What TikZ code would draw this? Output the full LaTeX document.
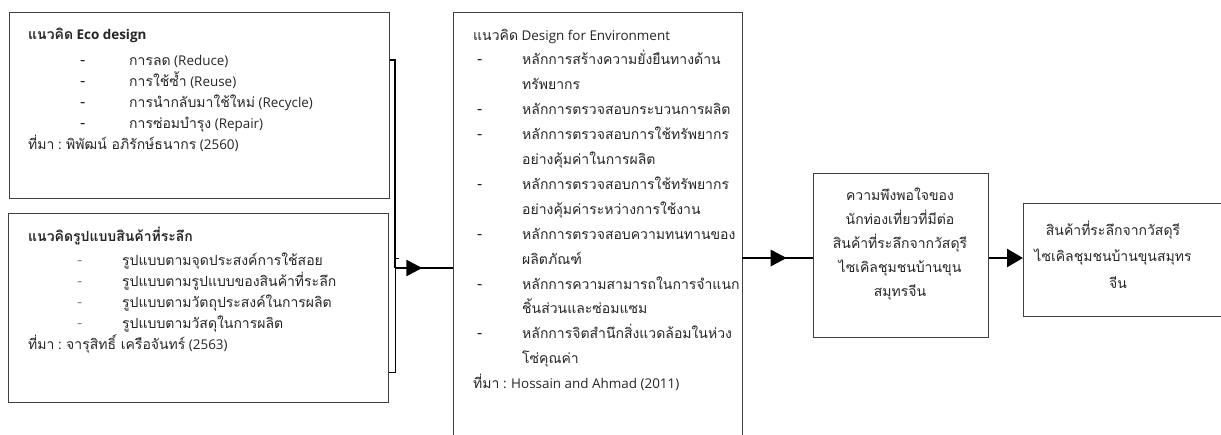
\documentclass[tikz,border=0pt]{standalone}
\usepackage{fontspec}
\setmainfont[Script=Thai]{Loma}
\newfontfamily\latf{Open Sans}[Scale=0.96]
\newcommand\latx[1]{{\latf #1}}
\usetikzlibrary{arrows.meta,decorations.markings,calc}
\begin{document}
\begin{tikzpicture}[x=1pt,y=-1pt,
  box/.style={draw=black!75, line width=1pt, anchor=north west, inner sep=0pt},
  txt/.style={anchor=west, inner sep=0pt, text height=10pt, text depth=4pt, text=black!85, font=\fontsize{14}{16}\selectfont},
  ctxt/.style={anchor=center, inner sep=0pt, text height=10pt, text depth=4pt, text=black!85, font=\fontsize{14}{16}\selectfont},
  dsh/.style={anchor=west, inner sep=0pt, text height=10pt, text depth=4pt, text=black!90, font=\fontsize{17}{16}\selectfont\latf},
  conn/.style={line width=2.6pt, black},
  thinconn/.style={line width=1pt, black},
  midarrow/.style={postaction={decorate}, decoration={markings, mark=at position #1 with {\arrow{Triangle[length=16pt,width=16pt]}}}}
]
\useasboundingbox (0,0) rectangle (1221,434);
\clip (0,0) rectangle (1221,434);
\fill[white] (0,0) rectangle (1221,434);

% boxes
\node[box, minimum width=380pt, minimum height=186pt] (eco) at (9,12) {};
\node[box, minimum width=380pt, minimum height=189pt] (souv) at (8,213) {};
\node[box, minimum width=289pt, minimum height=440pt] (dfe) at (453,12) {};
\node[box, minimum width=175pt, minimum height=164pt] (sat) at (813,173) {};
\node[box, minimum width=220pt, minimum height=113pt] (prod) at (1023,203) {};

% box 1 text
\node[txt] (e0) at (28,36) {\textbf{แนวคิด\latx{ Eco design}}};
\node[dsh] (e1d) at (80,62) {-};  \node[txt] (e1) at (129,62) {การลด\latx{ (Reduce)}};
\node[dsh] (e2d) at (80,83) {-};  \node[txt] (e2) at (129,83) {การใช้ซ้ำ\latx{ (Reuse)}};
\node[dsh] (e3d) at (80,104) {-}; \node[txt] (e3) at (129,104) {การนำกลับมาใช้ใหม่\latx{ (Recycle)}};
\node[dsh] (e4d) at (80,125) {-}; \node[txt] (e4) at (129,125) {การซ่อมบำรุง\latx{ (Repair)}};
\node[txt] (e5) at (28,146) {ที่มา\latx{ : }พิพัฒน์ อภิรักษ์ธนากร\latx{ (2560)}};

% box 2 text
\node[txt] (s0) at (28,238) {\textbf{แนวคิดรูปแบบสินค้าที่ระลึก}};
\node[dsh, text=black!45] (s1d) at (77,262) {-}; \node[txt] (s1) at (122,262) {รูปแบบตามจุดประสงค์การใช้สอย};
\node[dsh, text=black!45] (s2d) at (77,283) {-}; \node[txt] (s2) at (122,283) {รูปแบบตามรูปแบบของสินค้าที่ระลึก};
\node[dsh, text=black!45] (s3d) at (77,304) {-}; \node[txt] (s3) at (122,304) {รูปแบบตามวัตถุประสงค์ในการผลิต};
\node[dsh, text=black!45] (s4d) at (77,325) {-}; \node[txt] (s4) at (122,325) {รูปแบบตามวัสดุในการผลิต};
\node[txt] (s5) at (28,346) {ที่มา\latx{ : }จารุสิทธิ์ เครือจันทร์\latx{ (2563)}};

% center box text
\node[txt] (d0) at (473,37) {แนวคิด\latx{ Design for Environment}};
\node[dsh] (d1d) at (477,61.9) {-}; \node[txt] (d1) at (522,61.9) {หลักการสร้างความยั่งยืนทางด้าน};
\node[txt] (d1b) at (522,86.8) {ทรัพยากร};
\node[dsh] (d2d) at (477,111.7) {-}; \node[txt] (d2) at (522,111.7) {หลักการตรวจสอบกระบวนการผลิต};
\node[dsh] (d3d) at (477,136.6) {-}; \node[txt] (d3) at (522,136.6) {หลักการตรวจสอบการใช้ทรัพยากร};
\node[txt] (d3b) at (522,161.5) {อย่างคุ้มค่าในการผลิต};
\node[dsh] (d4d) at (477,186.4) {-}; \node[txt] (d4) at (522,186.4) {หลักการตรวจสอบการใช้ทรัพยากร};
\node[txt] (d4b) at (522,211.3) {อย่างคุ้มค่าระหว่างการใช้งาน};
\node[dsh] (d5d) at (477,236.2) {-}; \node[txt] (d5) at (522,236.2) {หลักการตรวจสอบความทนทานของ};
\node[txt] (d5b) at (522,261.1) {ผลิตภัณฑ์};
\node[dsh] (d6d) at (477,286) {-}; \node[txt] (d6) at (522,286) {หลักการความสามารถในการจำแนก};
\node[txt] (d6b) at (522,310.9) {ชิ้นส่วนและซ่อมแซม};
\node[dsh] (d7d) at (477,335.8) {-}; \node[txt] (d7) at (522,335.8) {หลักการจิตสำนึกสิ่งแวดล้อมในห่วง};
\node[txt] (d7b) at (522,360.7) {โซ่คุณค่า};
\node[txt] (d8) at (473,385.6) {ที่มา\latx{ : Hossain and Ahmad (2011)}};

% box 4 text
\node[ctxt] (a1) at (900,197) {ความพึงพอใจของ};
\node[ctxt] (a2) at (900,221) {นักท่องเที่ยวที่มีต่อ};
\node[ctxt] (a3) at (900,245) {สินค้าที่ระลึกจากวัสดุรี};
\node[ctxt] (a4) at (900,269) {ไซเคิลชุมชนบ้านขุน};
\node[ctxt] (a5) at (900,293) {สมุทรจีน};

% box 5 text
\node[ctxt] (b1) at (1113,232) {สินค้าที่ระลึกจากวัสดุรี};
\node[ctxt] (b2) at (1113,258) {ไซเคิลชุมชนบ้านขุนสมุทร};
\node[ctxt] (b3) at (1118,285) {จีน};

% connectors
\coordinate (j1) at (395,60);
\coordinate (j2) at (395,268);
\coordinate (j3) at (395,372);
\coordinate (j4) at (395,258);
\coordinate (j5) at (399,258);
\coordinate (m1) at (742,258);
\draw[conn] (eco.east |- j1) -- (j1) -- (j2);
\draw[conn, midarrow=0.47] (j2) -- (j2 -| dfe.west);
\draw[thinconn] (souv.east |- j3) -- (j3) -- (j4) -- (j5);
\draw[conn, midarrow=0.63] (m1) -- (m1 -| sat.west);
\draw[conn, -{Triangle[length=16pt,width=18pt]}] (m1 -| sat.east) -- (m1 -| prod.west);
\end{tikzpicture}
\end{document}
